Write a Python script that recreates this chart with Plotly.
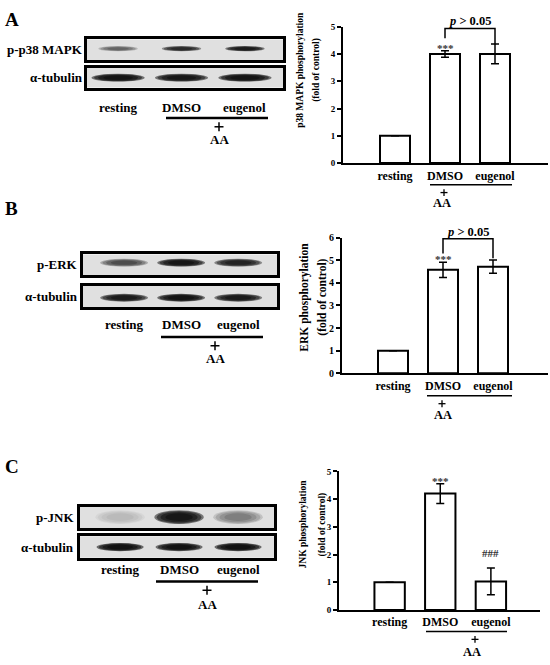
import plotly.graph_objects as go

W, H = 550, 665
font_family = "Liberation Serif"

# bar chart data (fold of control)
conditions = ["resting", "DMSO", "eugenol"]

p38_fold = [1.0, 4.0, 4.0]
p38_err = [0, 0.12, 0.36]
p38_marks = ["", "***", ""]

erk_fold = [1.0, 4.58, 4.72]
erk_err = [0, 0.34, 0.29]
erk_marks = ["", "***", ""]

jnk_fold = [1.0, 4.2, 1.03]
jnk_err = [0, 0.36, 0.48]
jnk_marks = ["", "***", "###"]

# blot band intensities per lane (0 = no band, 1 = black)
p38_bands = [0.35, 0.7, 0.85]
p38_tubulin = [0.95, 0.9, 0.95]
erk_bands = [0.45, 0.9, 0.75]
erk_tubulin = [0.85, 0.95, 0.85]
jnk_bands = [0.08, 0.9, 0.25]
jnk_tubulin = [1.0, 0.95, 1.0]


def fx(p):
    return p / W


def fy(p):
    return 1 - p / H


panels = [
    dict(letter="A", letter_pos=(12, 14),
         values=p38_fold, errors=p38_err, marks=p38_marks, ymax=5,
         bar_x=(343, 548), bar_y=(21, 160), xrange=[-1.04, 3.06], tick_size=9,
         title=["p38 MAPK phosphorylation", "(fold of control)"], title_x=(300, 317), title_y=65, title_size=9.5,
         bracket=(4.93, 4.57, 4.35, 15),
         aa_line=(430, 512, 182), aa_plus=(444, 190), aa_text=(442, 201),
         blot_x=(87, 283), lane_range=[-0.49, 2.6], blot_label_x=85,
         rows=[("p-p38 MAPK", p38_bands, (34, 55), 0.31, 0.13, 0.55),
               ("α-tubulin", p38_tubulin, (63, 83), 0.42, 0.2, 0.5)],
         lane_y=103, blot_line=(166, 268, 114), blot_plus=(219, 123), blot_aa=(219, 136)),
    dict(letter="B", letter_pos=(11, 206),
         values=erk_fold, errors=erk_err, marks=erk_marks, ymax=6,
         bar_x=(342, 548), bar_y=(236, 374), xrange=[-1.02, 3.1], tick_size=10,
         title=["ERK phosphorylation", "(fold of control)"], title_x=(305, 323), title_y=297, title_size=11.5,
         bracket=(5.96, 5.3, 5.09, 230),
         aa_line=(427, 512, 397), aa_plus=(442, 405), aa_text=(443, 417),
         blot_x=(83, 277), lane_range=[-0.72, 2.68], blot_label_x=80,
         rows=[("p-ERK", erk_bands, (253, 274), 0.42, 0.19, 0.6),
               ("α-tubulin", erk_tubulin, (285, 307), 0.42, 0.18, 0.45)],
         lane_y=324, blot_line=(161, 263, 337), blot_plus=(215, 346), blot_aa=(215, 359)),
    dict(letter="C", letter_pos=(12, 469),
         values=jnk_fold, errors=jnk_err, marks=jnk_marks, ymax=5,
         bar_x=(339, 540), bar_y=(474, 615), xrange=[-1.0, 2.97], tick_size=9,
         title=["JNK phosphorylation", "(fold of control)"], title_x=(303, 322), title_y=528, title_size=9.5,
         bracket=None,
         aa_line=(426, 507, 637), aa_plus=(475, 645), aa_text=(472, 658),
         blot_x=(80, 274), lane_range=[-0.68, 2.61], blot_label_x=76,
         rows=[("p-JNK", jnk_bands, (510, 532), 0.42, 0.32, 0.52),
               ("α-tubulin", jnk_tubulin, (540, 562), 0.4, 0.19, 0.5)],
         lane_y=574, blot_line=(156, 258, 586), blot_plus=(207, 595), blot_aa=(207, 609)),
]

fig = go.Figure()
layout_axes = {}
shapes = []
annotations = []


def text(x, y, s, size=13, xref="paper", yref="paper", xanchor="center", yanchor="middle", color="black", **kw):
    annotations.append(dict(
        x=x, y=y, xref=xref, yref=yref, text=s, showarrow=False,
        xanchor=xanchor, yanchor=yanchor,
        font=dict(family=font_family, size=size, color=color, weight="bold"), **kw
    ))


def plus(cx, cy, half, width):
    # the "+" sign under the treatment line, drawn as two strokes
    for dx, dy in [(half, 0), (0, half)]:
        shapes.append(dict(type="line", xref="paper", yref="paper",
                           x0=fx(cx - dx), x1=fx(cx + dx), y0=fy(cy - dy), y1=fy(cy + dy),
                           line=dict(color="black", width=width)))


for i, p in enumerate(panels):
    n = 3 * i + 1
    xa = "x" if n == 1 else f"x{n}"
    ya = "y" if n == 1 else f"y{n}"
    key = "" if n == 1 else str(n)

    # bar chart
    fig.add_trace(go.Bar(
        x=[0, 1, 2], y=p["values"], width=0.6,
        marker=dict(color="white", line=dict(color="black", width=2)),
        error_y=dict(type="data", array=p["errors"], color="black", thickness=1.5, width=4),
        xaxis=xa, yaxis=ya, hoverinfo="skip",
    ))
    layout_axes["xaxis" + key] = dict(
        domain=[fx(p["bar_x"][0]), fx(p["bar_x"][1])], anchor=ya, range=p["xrange"],
        showline=True, linecolor="black", linewidth=2, ticks="",
        tickvals=[0, 1, 2], ticktext=conditions, showgrid=False, zeroline=False,
        tickfont=dict(family=font_family, size=12, color="black", weight="bold"),
    )
    layout_axes["yaxis" + key] = dict(
        domain=[fy(p["bar_y"][1]), fy(p["bar_y"][0])], anchor=xa, range=[0, p["ymax"]],
        dtick=1, showline=True, linecolor="black", linewidth=2, ticks="outside",
        ticklen=4, tickwidth=1.5, tickcolor="black", showgrid=False, zeroline=False,
        tickfont=dict(family=font_family, size=p["tick_size"], color="black", weight="bold"),
    )

    for line, tx in zip(p["title"], p["title_x"]):
        text(fx(tx), fy(p["title_y"]), line, size=p["title_size"], textangle=-90)

    for j, m in enumerate(p["marks"]):
        if m:
            text(j, p["values"][j] + p["errors"][j], m, size=11, xref=xa, yref=ya,
                 yanchor="bottom", yshift=-5 if "*" in m else 7, color="#333333")

    if p["bracket"]:
        top, leg1, leg2, ty = p["bracket"]
        shapes.append(dict(type="path", xref=xa, yref=ya,
                           path=f"M 1 {leg1} L 1 {top} L 2 {top} L 2 {leg2}",
                           line=dict(color="black", width=1.5)))
        text(1.5, fy(ty), "<i>p</i> &gt; 0.05", size=12.5, xref=xa)

    x0, x1, ly = p["aa_line"]
    shapes.append(dict(type="line", xref="paper", yref="paper", x0=fx(x0), x1=fx(x1), y0=fy(ly), y1=fy(ly),
                       line=dict(color="black", width=1.5)))
    plus(*p["aa_plus"], half=3.5, width=1.3)
    text(fx(p["aa_text"][0]), fy(p["aa_text"][1]), "AA", size=12.5)

    # panel letter
    text(fx(p["letter_pos"][0]), fy(p["letter_pos"][1]), p["letter"], size=19)

    # western blot rows
    for r, (label, bands, (yt, yb), hw, hh, yc) in enumerate(p["rows"]):
        m = n + 1 + r
        bx, by = f"x{m}", f"y{m}"
        fig.add_trace(go.Scatter(x=[0, 1, 2], y=[0.5] * 3, mode="markers", marker=dict(opacity=0),
                                 xaxis=bx, yaxis=by, hoverinfo="skip"))
        layout_axes[f"xaxis{m}"] = dict(
            domain=[fx(p["blot_x"][0]), fx(p["blot_x"][1])], anchor=by, range=p["lane_range"],
            showline=True, mirror=True, linecolor="black", linewidth=2.5,
            showticklabels=False, ticks="", showgrid=False, zeroline=False,
        )
        layout_axes[f"yaxis{m}"] = dict(
            domain=[fy(yb), fy(yt)], anchor=bx, range=[0, 1],
            showline=True, mirror=True, linecolor="black", linewidth=2.5,
            showticklabels=False, ticks="", showgrid=False, zeroline=False,
        )
        shapes.append(dict(type="rect", xref=f"{bx} domain", yref=f"{by} domain", x0=0, x1=1, y0=0, y1=1,
                           fillcolor="#e0e0e0", line=dict(width=0), layer="below"))
        for lane, level in enumerate(bands):
            for s in [1.0, 0.9, 0.75, 0.55]:
                shapes.append(dict(
                    type="circle", xref=bx, yref=by,
                    x0=lane - hw * s, x1=lane + hw * s, y0=yc - hh * s, y1=yc + hh * s,
                    fillcolor=f"rgba(10,10,10,{0.55 * level:.3f})", line=dict(width=0), layer="below",
                ))
        text(fx(p["blot_label_x"]), (fy(yt) + fy(yb)) / 2, label, size=13, xanchor="right")

    first = f"x{n + 1}"
    for lane, name in enumerate(conditions):
        text(lane, fy(p["lane_y"]), name, size=13, xref=first)

    x0, x1, ly = p["blot_line"]
    shapes.append(dict(type="line", xref="paper", yref="paper", x0=fx(x0), x1=fx(x1), y0=fy(ly), y1=fy(ly),
                       line=dict(color="black", width=2.5)))
    plus(*p["blot_plus"], half=4.5, width=1.5)
    text(fx(p["blot_aa"][0]), fy(p["blot_aa"][1]), "AA", size=13)

fig.update_layout(
    width=W, height=H,
    margin=dict(l=0, r=0, t=0, b=0),
    paper_bgcolor="white", plot_bgcolor="white",
    showlegend=False,
    shapes=shapes, annotations=annotations,
    **layout_axes,
)

# drop the default page margin so the figure sits at the window corner
fig.write_html("out.html", config={"displayModeBar": False},
               post_script="document.body.style.margin = '0';")
